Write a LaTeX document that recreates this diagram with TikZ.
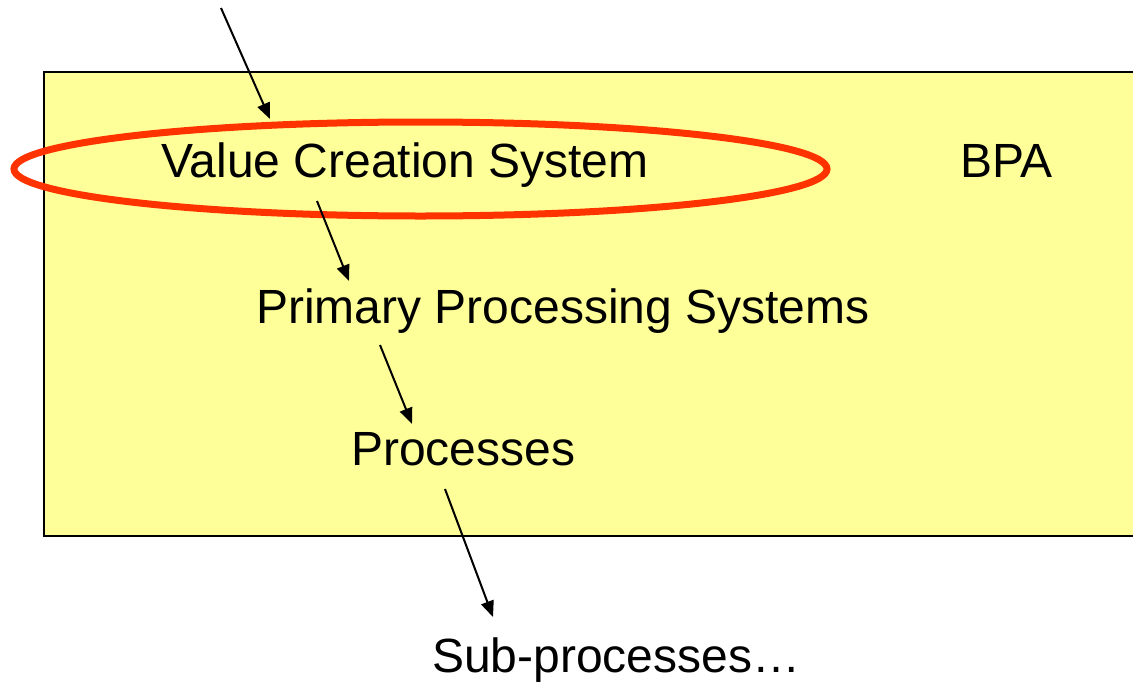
\documentclass[tikz,border=0pt]{standalone}
\usepackage{fontspec}
\setmainfont{Liberation Sans}
\usetikzlibrary{arrows.meta}
\definecolor{panelyellow}{HTML}{FFFF99}
\definecolor{ringred}{HTML}{FF3300}
\tikzset{
  lbl/.style={anchor=base west, inner sep=0pt, font=\fontsize{48}{56}\selectfont},
  flow/.style={line width=2pt, -{Triangle[length=16pt, width=13pt]}},
}
\begin{document}
\begin{tikzpicture}[x=1pt, y=-1pt]
  \useasboundingbox (0,0) rectangle (1133,683);
  % BPA panel (runs off the right edge)
  \fill[panelyellow] (44,72) rectangle (1133,536);
  \draw[line width=2pt] (1133,72) -- (44,72) -- (44,536) -- (1133,536);

  % level labels
  \node[lbl] (vcs) at (161,177) {Value Creation System};
  \node[lbl] (bpa) at (960,177) {BPA};
  \node[lbl] (pps) at (256,323) {Primary Processing Systems};
  \node[lbl] (proc) at (351,465) {Processes};
  \node[lbl] (sub) at (432,672) {Sub-processes…};

  % highlight ring
  \draw[ringred, line width=7pt] (420.5,169) ellipse [x radius=406.5, y radius=47];

  % arrow end points
  \coordinate (a1s) at (221,8);    \coordinate (a1e) at (270,119);
  \coordinate (a2s) at (317,201);  \coordinate (a2e) at (349,281);
  \coordinate (a3s) at (380,345);  \coordinate (a3e) at (412,424);
  \coordinate (a4s) at (445,489);  \coordinate (a4e) at (493,617);

  \draw[flow] (a1s) -- (a1e);
  \draw[flow] (a2s) -- (a2e);
  \draw[flow] (a3s) -- (a3e);
  \draw[flow] (a4s) -- (a4e);
\end{tikzpicture}
\end{document}
